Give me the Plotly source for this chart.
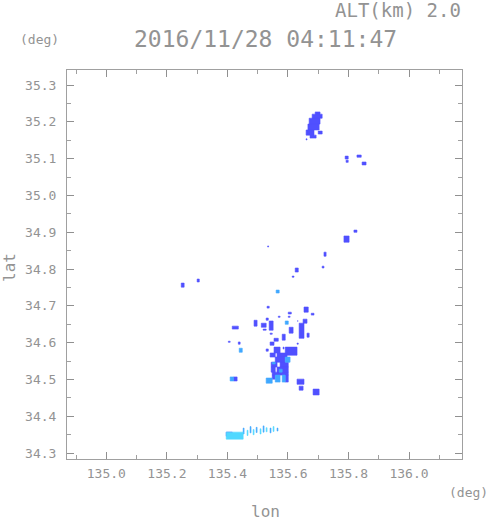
import plotly.graph_objects as go

# Echo cells: rectangles in lon/lat (deg) with intensity level (1=blue, 2=mid, 3=light cyan)
lon_min = [135.690, 135.680, 135.670, 135.666, 135.660, 135.673, 135.700, 135.660,
           135.789, 135.792, 135.828, 135.845,
           135.785, 135.818,
           135.719, 135.713, 135.624, 135.614, 135.533,
           135.2475, 135.300,
           135.561, 135.531, 135.653, 135.677, 135.601, 135.601, 135.568, 135.630,
           135.528, 135.650, 135.416, 135.488, 135.512, 135.538, 135.591, 135.604,
           135.518, 135.541, 135.637, 135.663, 135.581, 135.554, 135.403, 135.436,
           135.541, 135.630, 135.439, 135.528, 135.554, 135.584, 135.591,
           135.541, 135.564, 135.558, 135.591, 135.5445, 135.548, 135.574, 135.5445,
           135.564, 135.571, 135.548, 135.558, 135.581, 135.591, 135.548,
           135.528, 135.409, 135.420,
           135.630, 135.637, 135.683,
           135.396, 135.396,
           135.452, 135.465, 135.475, 135.485, 135.495, 135.508, 135.518, 135.528, 135.541, 135.551, 135.564]
lon_max = [135.706, 135.713, 135.706, 135.703, 135.686, 135.693, 135.713, 135.663,
           135.799, 135.799, 135.842, 135.858,
           135.802, 135.828,
           135.726, 135.719, 135.634, 135.620, 135.536,
           135.257, 135.307,
           135.571, 135.538, 135.667, 135.686, 135.611, 135.607, 135.574, 135.634,
           135.535, 135.663, 135.436, 135.498, 135.528, 135.551, 135.601, 135.617,
           135.528, 135.548, 135.653, 135.670, 135.591, 135.568, 135.409, 135.442,
           135.554, 135.634, 135.449, 135.535, 135.574, 135.587, 135.630,
           135.558, 135.597, 135.591, 135.607, 135.564, 135.558, 135.601, 135.558,
           135.601, 135.581, 135.601, 135.574, 135.591, 135.601, 135.558,
           135.548, 135.420, 135.432,
           135.653, 135.650, 135.703,
           135.452, 135.416,
           135.455, 135.468, 135.478, 135.488, 135.498, 135.511, 135.521, 135.531, 135.544, 135.554, 135.567]
lat_min = [35.221, 35.210, 35.194, 35.178, 35.164, 35.156, 35.167, 35.151,
           35.099, 35.090, 35.104, 35.083,
           34.873, 34.900,
           34.835, 34.803, 34.792, 34.778, 34.860,
           34.751, 34.765,
           34.735, 34.694, 34.683, 34.675, 34.678, 34.669, 34.669, 34.659,
           34.661, 34.653, 34.637, 34.645, 34.642, 34.634, 34.650, 34.626,
           34.634, 34.623, 34.612, 34.615, 34.607, 34.604, 34.601, 34.596,
           34.593, 34.596, 34.574, 34.577, 34.572, 34.583, 34.566,
           34.561, 34.561, 34.547, 34.547, 34.534, 34.542, 34.534, 34.520,
           34.520, 34.520, 34.512, 34.493, 34.493, 34.493, 34.501,
           34.490, 34.496, 34.496,
           34.487, 34.471, 34.458,
           34.338, 34.346,
           34.352, 34.348, 34.355, 34.350, 34.356, 34.352, 34.357, 34.358, 34.355, 34.359, 34.360]
lat_max = [35.227, 35.221, 35.210, 35.194, 35.178, 35.164, 35.175, 35.154,
           35.107, 35.096, 35.110, 35.091,
           34.890, 34.906,
           34.846, 34.808, 34.803, 34.781, 34.863,
           34.762, 34.773,
           34.743, 34.699, 34.697, 34.680, 34.683, 34.672, 34.672, 34.661,
           34.667, 34.664, 34.645, 34.661, 34.653, 34.659, 34.659, 34.642,
           34.637, 34.626, 34.653, 34.626, 34.623, 34.612, 34.604, 34.602,
           34.602, 34.599, 34.585, 34.583, 34.588, 34.588, 34.588,
           34.572, 34.572, 34.561, 34.561, 34.547, 34.547, 34.547, 34.534,
           34.534, 34.528, 34.520, 34.512, 34.512, 34.512, 34.512,
           34.504, 34.507, 34.507,
           34.501, 34.482, 34.474,
           34.357, 34.357,
           34.368, 34.362, 34.372, 34.364, 34.370, 34.366, 34.374, 34.369, 34.368, 34.372, 34.368]
level = [1, 1, 1, 1, 1, 1, 1, 1,
         1, 1, 1, 1,
         1, 1,
         1, 1, 1, 1, 1,
         1, 1,
         2, 1, 1, 1, 1, 1, 1, 1,
         1, 1, 1, 1, 1, 1, 2, 1,
         1, 1, 1, 1, 1, 1, 1, 1,
         1, 1, 2, 1, 1, 1, 1,
         1, 1, 1, 2, 1, 2, 1, 1,
         1, 2, 1, 2, 2, 1, 1,
         2, 2, 1,
         1, 1, 1,
         3, 1,
         2, 3, 2, 3, 2, 3, 2, 3, 2, 3, 2]

x_ticks = [135.0, 135.2, 135.4, 135.6, 135.8, 136.0]
y_ticks = [34.3, 34.4, 34.5, 34.6, 34.7, 34.8, 34.9, 35.0, 35.1, 35.2, 35.3]
title_text = "2016/11/28 04:11:47"
alt_text = "ALT(km) 2.0"

colors = {1: "#5050ff", 2: "#40a8ff", 3: "#50d8ff"}
GRAY = "#939393"
FONT = "DejaVu Sans Mono"

fig = go.Figure()
for lv in [1, 2, 3]:
    xs, ys = [], []
    for a, b, c, d, l in zip(lon_min, lon_max, lat_min, lat_max, level):
        if l != lv:
            continue
        xs += [a, b, b, a, a, None]
        ys += [c, c, d, d, c, None]
    fig.add_trace(go.Scatter(x=xs, y=ys, mode="lines", fill="toself",
                             fillcolor=colors[lv], line=dict(width=0.6, color=colors[lv]),
                             hoverinfo="skip", showlegend=False))

axis_common = dict(showgrid=False, zeroline=False, showline=True, linecolor="#a0a0a0",
                   linewidth=1, mirror="allticks", ticks="inside", ticklen=7,
                   tickcolor="#909090", tickwidth=1,
                   tickfont=dict(family=FONT, size=13, color=GRAY),
                   tickformat=".1f")
fig.update_xaxes(range=[134.87, 136.175], tickvals=x_ticks, ticklabelstandoff=2,
                 minor=dict(dtick=0.1, tick0=135.0, ticks="inside", ticklen=4,
                            tickcolor="#a0a0a0"),
                 **axis_common)
fig.update_yaxes(range=[34.284, 35.341], tickvals=y_ticks, ticklabelstandoff=7,
                 minor=dict(dtick=0.05, tick0=34.3, ticks="inside", ticklen=4,
                            tickcolor="#a0a0a0"),
                 **axis_common)

annotations = [
    dict(text=alt_text, x=463, y=10, xanchor="right", size=19),
    dict(text=title_text, x=265, y=39, xanchor="center", size=23),
    dict(text="(deg)", x=18, y=39, xanchor="left", size=13),
    dict(text="(deg)", x=490, y=492, xanchor="right", size=13),
    dict(text="lon", x=265, y=512, xanchor="center", size=16),
]
for a in annotations:
    fig.add_annotation(text=a["text"], xref="paper", yref="paper",
                       x=(a["x"] - 67) / (462 - 67), y=(459 - a["y"]) / (459 - 70),
                       xanchor=a["xanchor"], yanchor="middle", showarrow=False,
                       font=dict(family=FONT, size=a["size"], color=GRAY))
fig.add_annotation(text="lat", xref="paper", yref="paper",
                   x=(9 - 67) / (462 - 67), y=(459 - 268) / (459 - 70),
                   xanchor="center", yanchor="middle", showarrow=False, textangle=-90,
                   font=dict(family=FONT, size=16, color=GRAY))

fig.update_layout(width=491, height=521, margin=dict(l=67, r=29, t=70, b=62),
                  plot_bgcolor="white", paper_bgcolor="white")
fig.write_html("out.html", config={"displayModeBar": False},
               post_script="document.body.style.margin='0px';document.body.style.padding='0px';")
